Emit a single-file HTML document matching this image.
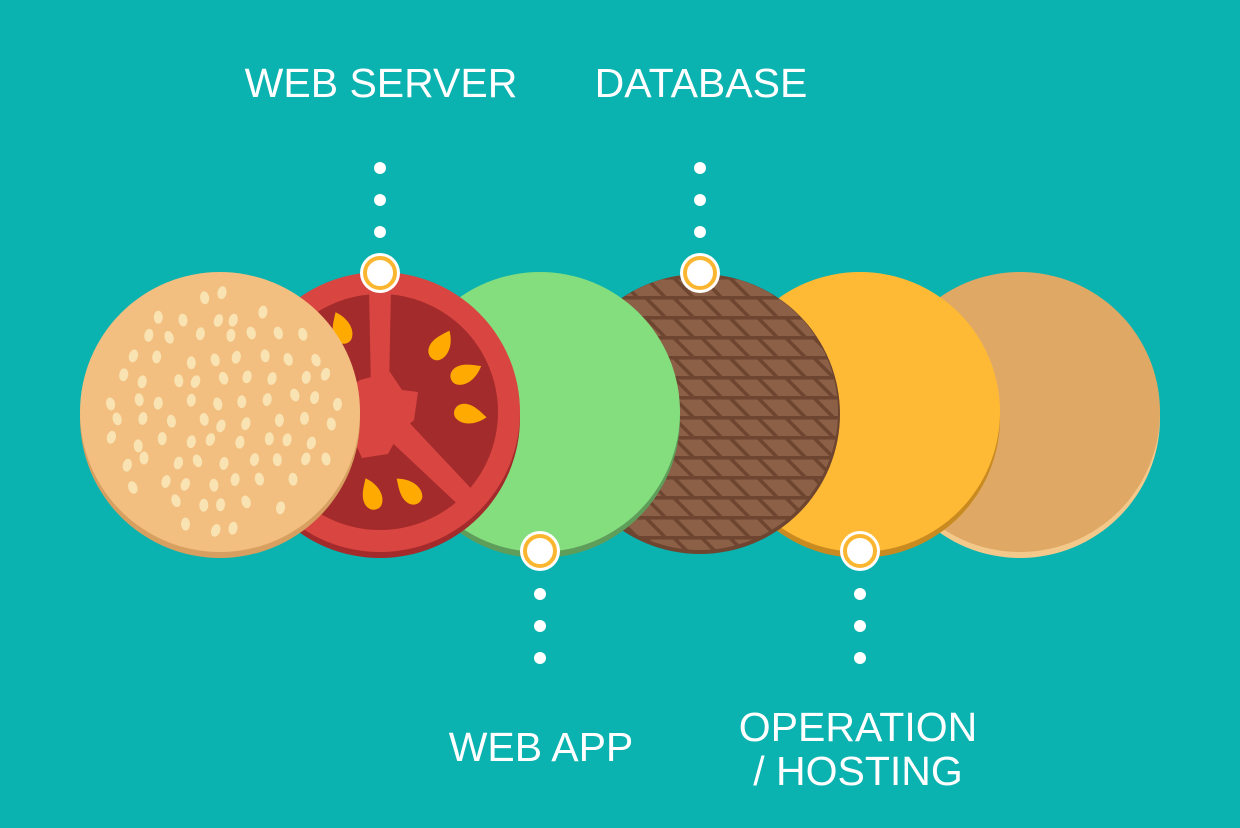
<!DOCTYPE html>
<html><head><meta charset="utf-8"><style>
html,body{margin:0;padding:0;background:#0ab2b0;}
svg{display:block}
text{font-family:"Liberation Sans",Helvetica,Arial,sans-serif;fill:#fff;font-size:41px;text-anchor:middle}
</style></head><body>
<svg id="s" width="1240" height="828" viewBox="0 0 1240 828">
<defs>
<pattern id="meat" width="28" height="20" patternUnits="userSpaceOnUse" x="0" y="276">
<rect width="28" height="20" fill="#8b6046"/>
<rect y="0" width="28" height="3.5" fill="#6e4530"/>
<line x1="-2" y1="-2" x2="22" y2="22" stroke="#6e4530" stroke-width="3.5"/>
<line x1="26" y1="-2" x2="50" y2="22" stroke="#6e4530" stroke-width="3.5"/>
</pattern>
<clipPath id="bunclip"><circle cx="220" cy="412" r="128"/></clipPath>
<path id="seed" d="M0,-14 C8,-6 9,4 4,9 C0,12 -6,10 -7,4 C-8,-3 -3,-9 0,-14 Z" fill="#ffaa00"/>
</defs>
<rect width="1240" height="828" fill="#0ab2b0"/>
<circle cx="1020" cy="418" r="140" fill="#f3c98b"/>
<circle cx="1020" cy="412" r="140" fill="#e0a865"/>
<circle cx="860" cy="418" r="140" fill="#c98a20"/>
<circle cx="860" cy="412" r="140" fill="#ffba35"/>
<circle cx="700" cy="414" r="140" fill="#6e4530"/>
<circle cx="700" cy="412" r="138" fill="url(#meat)"/>
<circle cx="540" cy="418" r="140" fill="#5e9e5a"/>
<circle cx="540" cy="412" r="140" fill="#84de7e"/>
<circle cx="380" cy="418" r="140" fill="#a32b2b"/>
<circle cx="380" cy="412" r="140" fill="#d94541"/>
<circle cx="380" cy="412" r="118" fill="#a32b2b"/>
<g fill="#d94541" transform="translate(380,412)">
<polygon points="-9,-20 -11,-125 11,-125 9,-20"/>
<g transform="rotate(45)"><polygon points="0,-14 130,-10 130,10 0,14"/></g>
<g transform="rotate(150)"><polygon points="0,-14 130,-10 130,10 0,14"/></g>
<g transform="rotate(195)"><polygon points="0,-14 130,-10 130,10 0,14"/></g>
<path d="M-20,-32 L10,-40 L22,-22 L38,-20 L34,8 L20,20 L8,42 L-18,46 L-30,20 L-42,0 L-32,-22 Z"/>
</g>
<g transform="translate(380,412)">
<use href="#seed" transform="translate(60,-65) rotate(30) scale(1.35)"/>
<use href="#seed" transform="translate(84,-38) rotate(65) scale(1.35)"/>
<use href="#seed" transform="translate(88,2) rotate(100) scale(1.35)"/>
<use href="#seed" transform="translate(-8,84) rotate(-20) scale(1.35)"/>
<use href="#seed" transform="translate(30,80) rotate(-45) scale(1.35)"/>
<use href="#seed" transform="translate(-38,-82) rotate(-20) scale(1.35)"/>
</g>
<circle cx="220" cy="418" r="140" fill="#d7a060"/>
<circle cx="220" cy="412" r="140" fill="#f2bf80"/>
<g id="sesame" clip-path="url(#bunclip)" fill="#f9e3b2"></g>
<g fill="#fff">
<circle cx="380" cy="168" r="6"/><circle cx="380" cy="200" r="6"/><circle cx="380" cy="232" r="6"/>
<circle cx="700" cy="168" r="6"/><circle cx="700" cy="200" r="6"/><circle cx="700" cy="232" r="6"/>
<circle cx="540" cy="594" r="6"/><circle cx="540" cy="626" r="6"/><circle cx="540" cy="658" r="6"/>
<circle cx="860" cy="594" r="6"/><circle cx="860" cy="626" r="6"/><circle cx="860" cy="658" r="6"/>
</g>
<g>
<g transform="translate(380,273)"><circle r="20" fill="#fff"/><circle r="15" fill="none" stroke="#fbb631" stroke-width="4"/></g>
<g transform="translate(700,273)"><circle r="20" fill="#fff"/><circle r="15" fill="none" stroke="#fbb631" stroke-width="4"/></g>
<g transform="translate(540,551)"><circle r="20" fill="#fff"/><circle r="15" fill="none" stroke="#fbb631" stroke-width="4"/></g>
<g transform="translate(860,551)"><circle r="20" fill="#fff"/><circle r="15" fill="none" stroke="#fbb631" stroke-width="4"/></g>
</g>
<text x="381" y="97">WEB SERVER</text>
<text x="701" y="97">DATABASE</text>
<text x="541" y="761">WEB APP</text>
<text x="858" y="741">OPERATION</text>
<text x="858" y="785">/ HOSTING</text>
</svg>
<script>
var g=document.getElementById('sesame'),s=12345;
function r(){s=(s*16807)%2147483647;return s/2147483647;}
var h='';
for(var y=295;y<=530;y+=21){for(var x=95+((y/21)%2)*13;x<=345;x+=26){
var px=x+(r()-0.5)*12,py=y+(r()-0.5)*10;
var dx=px-220,dy=py-412;if(dx*dx+dy*dy>120*120)continue;
h+='<ellipse cx="'+px.toFixed(1)+'" cy="'+py.toFixed(1)+'" rx="4.5" ry="6.5" transform="rotate('+((r()-0.5)*40).toFixed(0)+' '+px.toFixed(1)+' '+py.toFixed(1)+')"/>';}}
g.innerHTML=h;
</script>
</body></html>
